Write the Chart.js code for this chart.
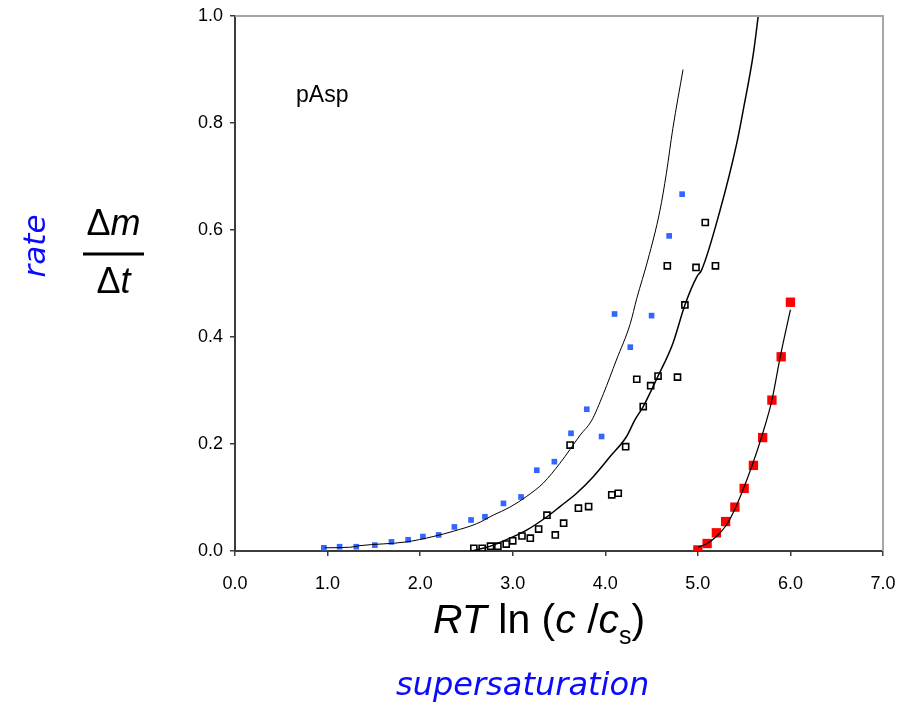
<!DOCTYPE html>
<html>
<head>
<meta charset="utf-8">
<script src="https://cdn.jsdelivr.net/npm/chart.js@4.4.1/dist/chart.umd.min.js"></script>
<style>
  html, body { margin: 0; padding: 0; background: #ffffff; }
  #wrap { width: 899px; height: 709px; position: relative; }
</style>
</head>
<body>
<div id="wrap"><canvas id="c" width="899" height="709"></canvas></div>
<script>
// ---- data ----
const xTicks = [0, 1, 2, 3, 4, 5, 6, 7];
const yTicks = [0, 0.2, 0.4, 0.6, 0.8, 1.0];

const blueX = [0.96, 1.13, 1.31, 1.51, 1.69, 1.87, 2.03, 2.20, 2.37, 2.55, 2.70, 2.90, 3.09, 3.26, 3.45, 3.63, 3.80, 3.96, 4.10, 4.27, 4.50, 4.69, 4.83];
const blueY = [0.006, 0.008, 0.008, 0.011, 0.017, 0.021, 0.027, 0.030, 0.045, 0.058, 0.064, 0.089, 0.101, 0.151, 0.167, 0.220, 0.265, 0.214, 0.443, 0.381, 0.440, 0.589, 0.667];

const openX = [2.58, 2.67, 2.76, 2.84, 2.93, 3.00, 3.10, 3.19, 3.28, 3.37, 3.46, 3.55, 3.71, 3.82, 4.07, 4.14, 3.62, 4.22, 4.41, 4.34, 4.49, 4.57, 4.78, 4.86, 4.67, 4.98, 5.19, 5.08];
const openY = [0.005, 0.005, 0.009, 0.009, 0.013, 0.019, 0.028, 0.024, 0.041, 0.067, 0.030, 0.052, 0.080, 0.083, 0.105, 0.108, 0.198, 0.195, 0.270, 0.321, 0.309, 0.327, 0.325, 0.460, 0.533, 0.530, 0.533, 0.614];

const redX = [5.0, 5.1, 5.2, 5.3, 5.4, 5.5, 5.6, 5.7, 5.8, 5.9, 6.0];
const redY = [0.002, 0.014, 0.034, 0.055, 0.082, 0.117, 0.160, 0.212, 0.282, 0.363, 0.465];

const fitAX = [0.97, 1.24, 1.35, 1.85, 2.14, 2.36, 2.61, 2.79, 2.97, 3.15, 3.33, 3.51, 3.62, 3.73, 3.85, 3.98, 4.12, 4.27, 4.34, 4.46, 4.59, 4.66, 4.73, 4.84];
const fitAY = [0.006, 0.007, 0.010, 0.017, 0.027, 0.037, 0.051, 0.067, 0.082, 0.102, 0.127, 0.164, 0.190, 0.217, 0.243, 0.294, 0.357, 0.425, 0.472, 0.544, 0.636, 0.706, 0.790, 0.900];

const fitBX = [2.55, 2.68, 2.79, 2.97, 3.15, 3.37, 3.51, 3.69, 3.87, 4.05, 4.23, 4.32, 4.41, 4.57, 4.73, 4.86, 4.99, 5.04, 5.24, 5.42, 5.49, 5.60, 5.66];
const fitBY = [0.000, 0.005, 0.011, 0.024, 0.039, 0.064, 0.083, 0.108, 0.139, 0.176, 0.214, 0.245, 0.270, 0.327, 0.388, 0.460, 0.513, 0.525, 0.637, 0.762, 0.824, 0.930, 1.011];

const fitCX = [5.00, 5.09, 5.20, 5.31, 5.42, 5.58, 5.69, 5.80, 5.89, 6.00];
const fitCY = [0.007, 0.013, 0.027, 0.049, 0.086, 0.157, 0.214, 0.282, 0.363, 0.451];

const pts = (xs, ys) => xs.map((x, i) => ({ x: x, y: ys[i] }));

const TICK_FONT = { family: "'Liberation Sans', Arial, sans-serif", size: 18 };
const AXIS_COLOR = '#3c3c3c';

const textPlugin = {
  id: 'annotTexts',
  afterDraw(chart) {
    const ctx = chart.ctx;
    const a = chart.chartArea;
    ctx.save();
    // top and right frame lines
    ctx.strokeStyle = '#a6a6a6';
    ctx.lineWidth = 2;
    ctx.beginPath();
    ctx.moveTo(a.left, a.top);
    ctx.lineTo(a.right, a.top);
    ctx.lineTo(a.right, a.bottom);
    ctx.stroke();

    ctx.fillStyle = '#000';
    ctx.textBaseline = 'alphabetic';
    ctx.textAlign = 'left';
    // pAsp
    ctx.font = "23px 'Liberation Sans', Arial, sans-serif";
    ctx.fillText('pAsp', 296, 102);

    // RT ln (c /c_s)
    const big = 41, sub = 25;
    const parts = [
      ['RT', 'italic', big, 0],
      [' ln (', 'normal', big, 0],
      ['c', 'italic', big, 0],
      [' /', 'normal', big, 0],
      ['c', 'italic', big, 0],
      ['s', 'normal', sub, 11],
      [')', 'normal', big, 0]
    ];
    let x = 433;
    parts.forEach(p => {
      ctx.font = p[1] + ' ' + p[2] + "px 'Liberation Sans', Arial, sans-serif";
      ctx.fillText(p[0], x, 633 + p[3]);
      x += ctx.measureText(p[0]).width;
    });

    // Δm / Δt
    const fr = 36;
    const drawFracLine = (items, cx, base) => {
      let w = 0;
      items.forEach(it => { ctx.font = it[1] + ' ' + fr + "px 'Liberation Sans', Arial, sans-serif"; w += ctx.measureText(it[0]).width; });
      let xx = cx - w / 2;
      items.forEach(it => { ctx.font = it[1] + ' ' + fr + "px 'Liberation Sans', Arial, sans-serif"; ctx.fillText(it[0], xx, base); xx += ctx.measureText(it[0]).width; });
    };
    drawFracLine([['Δ', 'normal'], ['m', 'italic']], 113.5, 235);
    ctx.fillRect(83, 252.5, 61, 3);
    drawFracLine([['Δ', 'normal'], ['t', 'italic']], 113.5, 293);

    // blue labels
    ctx.fillStyle = '#0a0aff';
    ctx.font = "oblique 31px 'DejaVu Sans', Verdana, sans-serif";
    ctx.save();
    ctx.translate(45, 246);
    ctx.rotate(-Math.PI / 2);
    ctx.textAlign = 'center';
    ctx.fillText('rate', 0, 0);
    ctx.restore();
    ctx.font = "oblique 32px 'DejaVu Sans', Verdana, sans-serif";
    ctx.fillText('supersaturation', 396, 695);

    ctx.restore();
  }
};

new Chart(document.getElementById('c'), {
  type: 'scatter',
  data: {
    datasets: [
      {
        label: 'fit A', type: 'line', data: pts(fitAX, fitAY),
        borderColor: '#000', borderWidth: 1, pointRadius: 0, fill: false,
        cubicInterpolationMode: 'monotone', order: 1
      },
      {
        label: 'fit B', type: 'line', data: pts(fitBX, fitBY),
        borderColor: '#000', borderWidth: 1.5, pointRadius: 0, fill: false,
        cubicInterpolationMode: 'monotone', order: 1
      },
      {
        label: 'fit C', type: 'line', data: pts(fitCX, fitCY),
        borderColor: '#000', borderWidth: 1.2, pointRadius: 0, fill: false,
        cubicInterpolationMode: 'monotone', order: 0
      },
      {
        label: 'blue', data: pts(blueX, blueY),
        pointStyle: 'rect', pointRadius: 4, backgroundColor: '#3366ff', borderColor: '#3366ff', borderWidth: 0, order: 2
      },
      {
        label: 'open', data: pts(openX, openY),
        pointStyle: 'rect', pointRadius: 4.3, backgroundColor: 'rgba(255,255,255,0)', borderColor: '#000', borderWidth: 1.6, order: 2
      },
      {
        label: 'red', data: pts(redX, redY),
        pointStyle: 'rect', pointRadius: 6.6, backgroundColor: '#ff0000', borderColor: '#ff0000', borderWidth: 0, order: 2
      }
    ]
  },
  options: {
    responsive: false,
    animation: false,
    layout: { padding: { top: 16, right: 16, left: 0, bottom: 0 } },
    plugins: { legend: { display: false }, tooltip: { enabled: false } },
    scales: {
      x: {
        type: 'linear', min: 0, max: 7,
        afterBuildTicks: s => { s.ticks = xTicks.map(v => ({ value: v })); },
        afterFit: s => { s.height = 158; s.paddingLeft = 0; s.paddingRight = 0; },
        border: { color: AXIS_COLOR, width: 2 },
        grid: { drawOnChartArea: false, drawTicks: true, tickLength: 5, color: AXIS_COLOR, lineWidth: 1.5 },
        ticks: { font: TICK_FONT, color: '#000', padding: 17, callback: v => Number(v).toFixed(1), maxRotation: 0 }
      },
      y: {
        type: 'linear', min: 0, max: 1,
        afterBuildTicks: s => { s.ticks = yTicks.map(v => ({ value: v })); },
        afterFit: s => { s.width = 235; s.paddingTop = 0; s.paddingBottom = 0; },
        border: { color: AXIS_COLOR, width: 2 },
        grid: { drawOnChartArea: false, drawTicks: true, tickLength: 5, color: AXIS_COLOR, lineWidth: 1.5 },
        ticks: { font: TICK_FONT, color: '#000', padding: 7, callback: v => Number(v).toFixed(1) }
      }
    }
  },
  plugins: [textPlugin]
});
</script>
</body>
</html>
